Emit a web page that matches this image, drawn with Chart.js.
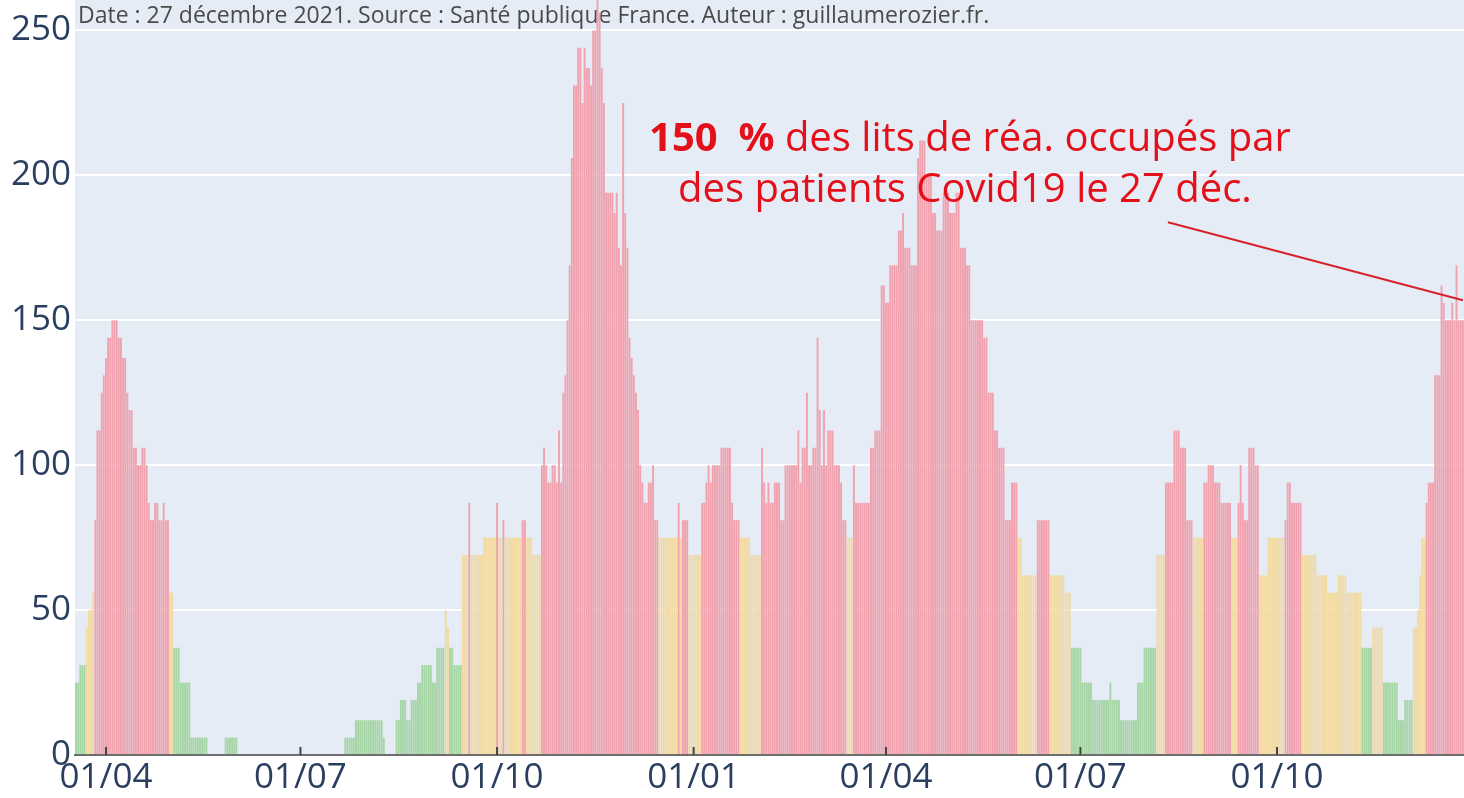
<!DOCTYPE html>
<html lang="fr">
<head>
<meta charset="utf-8">
<title>Lits de réa. occupés - Covid19</title>
<script src="https://cdn.jsdelivr.net/npm/chart.js@4.4.1/dist/chart.umd.min.js"></script>
<style>
  html, body { margin: 0; padding: 0; background: #fff; }
  #reaChart { display: block; }
</style>
</head>
<body>
<canvas id="reaChart" width="1464" height="798"></canvas>
<script>
// taux d'occupation des lits de réa (%), un point par jour depuis le 18/03/2020
var startDate = Date.UTC(2020, 2, 18);

var occMarJun2020 = [25,25,31,31,31,44,50,50,56,81,
  112,112,125,131,137,144,144,150,150,150,
  144,144,137,137,125,119,119,106,106,100,
  100,106,106,100,87,81,81,87,87,81,
  81,87,81,81,56,56,37,37,37,25,
  25,25,25,25,6,6,6,6,6,6,
  6,6,0,0,0,0,0,0,0,0,
  6,6,6,6,6,6,0,0,0,0,
  0,0,0,0,0,0,0,0,0,0,
  0,0,0,0,0,0,0,0,0,0,
  0,0,0,0,0];
var occJulSep2020 = [0,0,0,0,0,0,0,0,0,0,
  0,0,0,0,0,0,0,0,0,0,
  0,6,6,6,6,6,12,12,12,12,
  12,12,12,12,12,12,12,12,12,6,
  0,0,0,0,0,12,12,19,19,19,
  12,12,19,19,19,25,25,31,31,31,
  31,31,25,25,37,37,37,37,50,44,
  37,37,31,31,31,31,69,69,69,87,
  69,69,69,69,69,69,75,75,75,75,
  75,75];
var occOctDec2020 = [87,75,75,81,75,75,75,75,75,75,
  75,75,81,81,75,75,75,69,69,69,
  69,100,106,100,94,94,100,100,94,112,
  94,125,131,150,169,206,231,231,244,244,
  225,244,237,237,231,250,250,262,256,237,
  225,194,194,194,194,187,194,175,169,225,
  187,175,144,137,131,125,119,100,94,87,
  87,94,94,100,81,81,75,75,75,75,
  75,75,75,75,75,87,75,81,81,81,
  69,69];
var occJanMar2021 = [69,69,69,69,87,87,94,100,94,100,
  100,100,100,106,106,106,106,106,87,81,
  81,81,75,75,75,75,75,69,69,69,
  69,69,106,94,87,94,87,87,94,94,
  94,81,81,100,100,100,100,100,100,112,
  94,106,106,125,100,100,106,106,144,119,
  100,119,100,112,112,112,100,100,100,94,
  81,81,75,75,75,100,87,87,87,87,
  87,87,87,106,106,112,112,112,162,162];
var occAprJun2021 = [156,156,169,169,169,169,181,181,187,175,
  175,175,169,169,169,206,212,212,212,200,
  200,200,187,187,181,181,181,194,194,194,
  187,187,187,194,194,175,175,175,169,169,
  150,150,150,150,150,150,144,144,125,125,
  125,112,112,106,106,106,81,81,81,94,
  94,94,75,75,62,62,62,62,62,62,
  62,81,81,81,81,81,81,62,62,62,
  62,62,62,62,56,56,56,37,37,37,
  37];
var occJulSep2021 = [37,25,25,25,25,25,19,19,19,19,
  19,19,19,19,25,19,19,19,19,12,
  12,12,12,12,12,12,12,25,25,25,
  37,37,37,37,37,37,69,69,69,69,
  94,94,94,94,112,112,112,106,106,106,
  81,81,81,75,75,75,75,75,94,94,
  100,100,100,94,94,94,87,87,87,87,
  87,75,75,75,87,100,87,81,81,106,
  106,106,100,100,62,62,62,62,75,75,
  75,75];
var occOctDec2021 = [75,75,75,75,81,94,94,87,87,87,
  87,87,69,69,69,69,69,69,69,62,
  62,62,62,62,56,56,56,56,56,62,
  62,62,62,56,56,56,56,56,56,56,
  37,37,37,37,37,44,44,44,44,44,
  25,25,25,25,25,25,25,12,12,12,
  19,19,19,19,44,44,50,62,75,75,
  87,94,94,94,131,131,131,162,156,150,
  150,150,156,150,169,150,150,150];

var yTicks = [0, 50, 100, 150, 200, 250];
var monthTicks = ['01/01', '01/04', '01/07', '01/10'];
var sourceText = "Date : 27 décembre 2021. Source : Santé publique France. Auteur : guillaumerozier.fr.";
var annotBold = "150  %";
var annotLine1 = " des lits de réa. occupés par";
var annotLine2 = "des patients Covid19 le 27 déc.";

var occupation = [].concat(occMarJun2020, occJulSep2020, occOctDec2020,
  occJanMar2021, occAprJun2021, occJulSep2021, occOctDec2021);

function pad(n) { return n < 10 ? '0' + n : '' + n; }

var labels = [];
for (var i = 0; i < occupation.length; i++) {
  var d = new Date(startDate + i * 86400000);
  labels.push(pad(d.getUTCDate()) + '/' + pad(d.getUTCMonth() + 1));
}

var GREEN = '#a6d5a6', YELLOW = '#f2daa4', RED = '#f0a2ae';
function barColor(v) {
  if (v < 40) return GREEN;
  if (v < 80) return YELLOW;
  return RED;
}

var FONT = '"Open Sans", "DejaVu Sans", sans-serif';
var TICK_COLOR = '#2a3f5f';
var ANNOT_COLOR = '#e3101a';

var plotBg = {
  id: 'plotBg',
  beforeDraw: function(chart) {
    var a = chart.chartArea, ctx = chart.ctx;
    ctx.save();
    ctx.fillStyle = '#e5ecf6';
    ctx.fillRect(a.left, a.top, a.right - a.left, a.bottom - a.top);
    ctx.restore();
  },
  beforeDatasetsDraw: function(chart) {
    var a = chart.chartArea, ctx = chart.ctx;
    ctx.save();
    ctx.font = '23px ' + FONT;
    ctx.fillStyle = '#4a4a4a';
    ctx.textBaseline = 'middle';
    ctx.fillText(sourceText, a.left + 3, a.top + 16);
    ctx.restore();
  }
};

var annotations = {
  id: 'annotations',
  afterDatasetsDraw: function(chart) {
    var ctx = chart.ctx, xs = chart.scales.x, ys = chart.scales.y, a = chart.chartArea;
    ctx.save();
    // petits traits des graduations du mois
    ctx.strokeStyle = '#444';
    ctx.lineWidth = 2;
    xs.ticks.forEach(function(t, i) {
      if (monthTicks.indexOf(labels[i]) < 0) return;
      var x = xs.getPixelForTick(i);
      ctx.beginPath();
      ctx.moveTo(x, a.bottom - 8);
      ctx.lineTo(x, a.bottom);
      ctx.stroke();
    });

    var last = occupation.length - 1;
    var endX = xs.getPixelForValue(last);
    var endY = ys.getPixelForValue(occupation[last]) - 20;
    var tailX = endX - 295, tailY = endY - 78;
    ctx.strokeStyle = '#d8222b';
    ctx.lineWidth = 2;
    ctx.beginPath();
    ctx.moveTo(tailX, tailY);
    ctx.lineTo(endX, endY);
    ctx.stroke();

    var cx = endX - 493;
    ctx.fillStyle = ANNOT_COLOR;
    ctx.textBaseline = 'alphabetic';
    ctx.font = 'bold 40px ' + FONT;
    var wb = ctx.measureText(annotBold).width;
    ctx.font = '40px ' + FONT;
    var wr = ctx.measureText(annotLine1).width;
    var x0 = cx - (wb + wr) / 2;
    ctx.font = 'bold 40px ' + FONT;
    ctx.fillText(annotBold, x0, endY - 149);
    ctx.font = '40px ' + FONT;
    ctx.fillText(annotLine1, x0 + wb, endY - 149);
    ctx.textAlign = 'center';
    ctx.fillText(annotLine2, cx - 5, endY - 98);
    ctx.restore();
  }
};

var ctx = document.getElementById('reaChart').getContext('2d');
var reaChart = new Chart(ctx, {
  type: 'bar',
  data: {
    labels: labels,
    datasets: [{
      label: 'Lits de réa. occupés (%)',
      data: occupation,
      backgroundColor: occupation.map(barColor),
      borderWidth: 0,
      barPercentage: 0.9,
      categoryPercentage: 1
    }]
  },
  options: {
    responsive: false,
    animation: false,
    layout: { padding: 0 },
    plugins: {
      legend: { display: false },
      tooltip: { enabled: false }
    },
    scales: {
      x: {
        grid: { display: false, drawTicks: false },
        border: { display: true, color: '#6e6e6e', width: 2 },
        ticks: {
          autoSkip: false,
          maxRotation: 0,
          minRotation: 0,
          padding: 2,
          color: TICK_COLOR,
          font: { family: FONT, size: 35 },
          callback: function(value, index) {
            var l = labels[index];
            return monthTicks.indexOf(l) >= 0 ? l : '';
          }
        },
        afterFit: function(scale) {
          scale.height = 43;
          scale.paddingLeft = 0;
          scale.paddingRight = 0;
        }
      },
      y: {
        min: 0,
        max: 260.5,
        grid: { color: '#ffffff', lineWidth: 2, drawTicks: false },
        border: { display: false },
        ticks: {
          padding: 4,
          color: TICK_COLOR,
          font: { family: FONT, size: 35 }
        },
        afterBuildTicks: function(scale) {
          scale.ticks = yTicks.map(function(v) { return { value: v }; });
        },
        afterFit: function(scale) {
          scale.width = 75;
          scale.paddingTop = 0;
          scale.paddingBottom = 0;
        }
      }
    }
  },
  plugins: [plotBg, annotations]
});
</script>
</body>
</html>
